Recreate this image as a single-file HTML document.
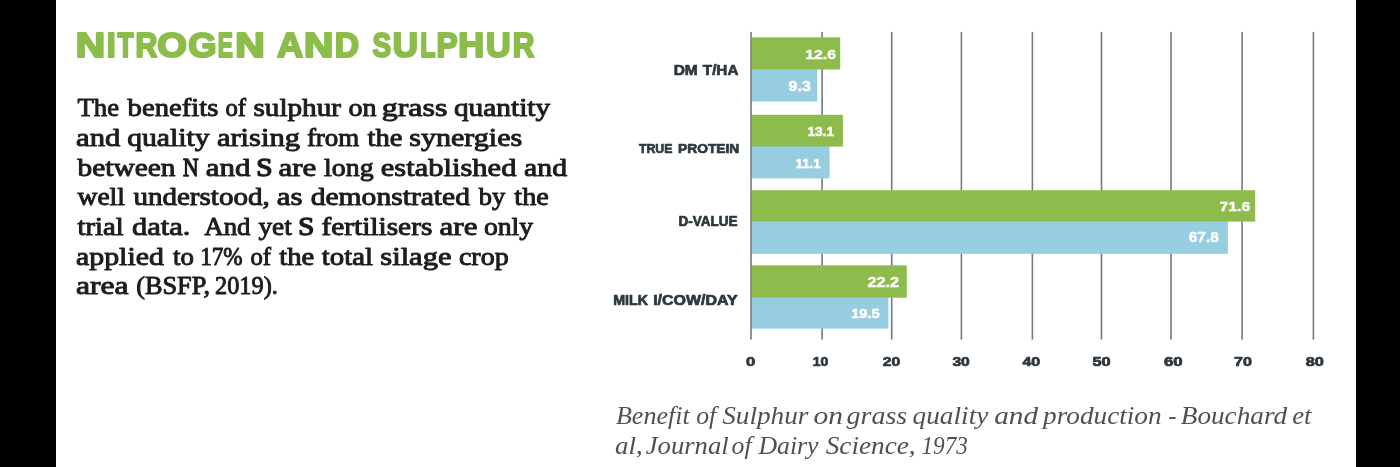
<!DOCTYPE html>
<html><head><meta charset="utf-8">
<style>
html,body{margin:0;padding:0;}
body{width:1400px;height:467px;position:relative;overflow:hidden;background:#000000;}
svg{position:absolute;left:0;top:0;display:block;will-change:transform;}
</style></head><body>
<svg width="1400" height="467" viewBox="0 0 1400 467">
<rect x="56" y="0" width="1300" height="467" fill="#ffffff"/>
<rect x="821.30" y="31.9" width="1.6" height="307.70000000000005" fill="#6f7b7d"/>
<rect x="890.90" y="31.9" width="1.6" height="307.70000000000005" fill="#6f7b7d"/>
<rect x="960.60" y="31.9" width="1.6" height="307.70000000000005" fill="#6f7b7d"/>
<rect x="1031.60" y="31.9" width="1.6" height="307.70000000000005" fill="#6f7b7d"/>
<rect x="1100.70" y="31.9" width="1.6" height="307.70000000000005" fill="#6f7b7d"/>
<rect x="1170.20" y="31.9" width="1.6" height="307.70000000000005" fill="#6f7b7d"/>
<rect x="1241.30" y="31.9" width="1.6" height="307.70000000000005" fill="#6f7b7d"/>
<rect x="1312.60" y="31.9" width="1.6" height="307.70000000000005" fill="#6f7b7d"/>
<rect x="751.80" y="68.50" width="65.50" height="2" fill="#93c5b0"/>
<rect x="751.80" y="37.30" width="88.40" height="32.2" fill="#8dbc4c"/>
<rect x="751.80" y="69.50" width="65.50" height="32" fill="#96cde1"/>
<rect x="751.80" y="145.60" width="77.80" height="2" fill="#93c5b0"/>
<rect x="751.80" y="114.80" width="91.10" height="31.8" fill="#8dbc4c"/>
<rect x="751.80" y="146.60" width="77.80" height="31.8" fill="#96cde1"/>
<rect x="751.80" y="220.60" width="476.10" height="2" fill="#93c5b0"/>
<rect x="751.80" y="190.20" width="503.40" height="31.4" fill="#8dbc4c"/>
<rect x="751.80" y="221.60" width="476.10" height="32.2" fill="#96cde1"/>
<rect x="751.80" y="296.70" width="136.60" height="2" fill="#93c5b0"/>
<rect x="751.80" y="265.30" width="155.00" height="32.4" fill="#8dbc4c"/>
<rect x="751.80" y="297.70" width="136.60" height="30.9" fill="#96cde1"/>
<rect x="750.20" y="31.9" width="1.6" height="307.70000000000005" fill="#6f7b7d"/>
<text x="75.88" y="56.90" font-size="34.59302325581396" fill="#8cbd4a" font-weight="bold" stroke="#8cbd4a" stroke-width="2.2" stroke-linejoin="round" textLength="29.36" lengthAdjust="spacingAndGlyphs" style="font-family:&quot;Liberation Sans&quot;,sans-serif;white-space:pre">N</text>
<text x="106.86" y="56.90" font-size="34.59302325581396" fill="#8cbd4a" font-weight="bold" stroke="#8cbd4a" stroke-width="2.2" stroke-linejoin="round" textLength="8.87" lengthAdjust="spacingAndGlyphs" style="font-family:&quot;Liberation Sans&quot;,sans-serif;white-space:pre">I</text>
<text x="117.51" y="56.90" font-size="34.59302325581396" fill="#8cbd4a" font-weight="bold" stroke="#8cbd4a" stroke-width="2.2" stroke-linejoin="round" textLength="15.97" lengthAdjust="spacingAndGlyphs" style="font-family:&quot;Liberation Sans&quot;,sans-serif;white-space:pre">T</text>
<text x="135.48" y="56.90" font-size="34.59302325581396" fill="#8cbd4a" font-weight="bold" stroke="#8cbd4a" stroke-width="2.2" stroke-linejoin="round" textLength="21.84" lengthAdjust="spacingAndGlyphs" style="font-family:&quot;Liberation Sans&quot;,sans-serif;white-space:pre">R</text>
<text x="157.34" y="56.90" font-size="34.59302325581396" fill="#8cbd4a" font-weight="bold" stroke="#8cbd4a" stroke-width="2.2" stroke-linejoin="round" textLength="29.67" lengthAdjust="spacingAndGlyphs" style="font-family:&quot;Liberation Sans&quot;,sans-serif;white-space:pre">O</text>
<text x="188.31" y="56.90" font-size="34.59302325581396" fill="#8cbd4a" font-weight="bold" stroke="#8cbd4a" stroke-width="2.2" stroke-linejoin="round" textLength="28.24" lengthAdjust="spacingAndGlyphs" style="font-family:&quot;Liberation Sans&quot;,sans-serif;white-space:pre">G</text>
<text x="217.67" y="56.90" font-size="34.59302325581396" fill="#8cbd4a" font-weight="bold" stroke="#8cbd4a" stroke-width="2.2" stroke-linejoin="round" textLength="15.22" lengthAdjust="spacingAndGlyphs" style="font-family:&quot;Liberation Sans&quot;,sans-serif;white-space:pre">E</text>
<text x="235.37" y="56.90" font-size="34.59302325581396" fill="#8cbd4a" font-weight="bold" stroke="#8cbd4a" stroke-width="2.2" stroke-linejoin="round" textLength="29.48" lengthAdjust="spacingAndGlyphs" style="font-family:&quot;Liberation Sans&quot;,sans-serif;white-space:pre">N</text>
<text x="277.10" y="56.90" font-size="34.59302325581396" fill="#8cbd4a" font-weight="bold" stroke="#8cbd4a" stroke-width="2.2" stroke-linejoin="round" textLength="26.16" lengthAdjust="spacingAndGlyphs" style="font-family:&quot;Liberation Sans&quot;,sans-serif;white-space:pre">A</text>
<text x="303.98" y="56.90" font-size="34.59302325581396" fill="#8cbd4a" font-weight="bold" stroke="#8cbd4a" stroke-width="2.2" stroke-linejoin="round" textLength="29.36" lengthAdjust="spacingAndGlyphs" style="font-family:&quot;Liberation Sans&quot;,sans-serif;white-space:pre">N</text>
<text x="334.85" y="56.90" font-size="34.59302325581396" fill="#8cbd4a" font-weight="bold" stroke="#8cbd4a" stroke-width="2.2" stroke-linejoin="round" textLength="24.26" lengthAdjust="spacingAndGlyphs" style="font-family:&quot;Liberation Sans&quot;,sans-serif;white-space:pre">D</text>
<text x="372.50" y="56.90" font-size="34.59302325581396" fill="#8cbd4a" font-weight="bold" stroke="#8cbd4a" stroke-width="2.2" stroke-linejoin="round" textLength="18.59" lengthAdjust="spacingAndGlyphs" style="font-family:&quot;Liberation Sans&quot;,sans-serif;white-space:pre">S</text>
<text x="392.70" y="56.90" font-size="34.59302325581396" fill="#8cbd4a" font-weight="bold" stroke="#8cbd4a" stroke-width="2.2" stroke-linejoin="round" textLength="25.23" lengthAdjust="spacingAndGlyphs" style="font-family:&quot;Liberation Sans&quot;,sans-serif;white-space:pre">U</text>
<text x="420.13" y="56.90" font-size="34.59302325581396" fill="#8cbd4a" font-weight="bold" stroke="#8cbd4a" stroke-width="2.2" stroke-linejoin="round" textLength="15.24" lengthAdjust="spacingAndGlyphs" style="font-family:&quot;Liberation Sans&quot;,sans-serif;white-space:pre">L</text>
<text x="436.38" y="56.90" font-size="34.59302325581396" fill="#8cbd4a" font-weight="bold" stroke="#8cbd4a" stroke-width="2.2" stroke-linejoin="round" textLength="21.10" lengthAdjust="spacingAndGlyphs" style="font-family:&quot;Liberation Sans&quot;,sans-serif;white-space:pre">P</text>
<text x="458.20" y="56.90" font-size="34.59302325581396" fill="#8cbd4a" font-weight="bold" stroke="#8cbd4a" stroke-width="2.2" stroke-linejoin="round" textLength="25.92" lengthAdjust="spacingAndGlyphs" style="font-family:&quot;Liberation Sans&quot;,sans-serif;white-space:pre">H</text>
<text x="486.05" y="56.90" font-size="34.59302325581396" fill="#8cbd4a" font-weight="bold" stroke="#8cbd4a" stroke-width="2.2" stroke-linejoin="round" textLength="24.63" lengthAdjust="spacingAndGlyphs" style="font-family:&quot;Liberation Sans&quot;,sans-serif;white-space:pre">U</text>
<text x="512.70" y="56.90" font-size="34.59302325581396" fill="#8cbd4a" font-weight="bold" stroke="#8cbd4a" stroke-width="2.2" stroke-linejoin="round" textLength="21.62" lengthAdjust="spacingAndGlyphs" style="font-family:&quot;Liberation Sans&quot;,sans-serif;white-space:pre">R</text>
<text x="77.50" y="116.30" font-size="24.2" fill="#1e1c1c" stroke="#1e1c1c" stroke-width="0.9" stroke-linejoin="round" textLength="41.50" lengthAdjust="spacingAndGlyphs" style="font-family:&quot;Liberation Serif&quot;,serif;white-space:pre">The</text>
<text x="127.60" y="116.30" font-size="24.2" fill="#1e1c1c" stroke="#1e1c1c" stroke-width="0.9" stroke-linejoin="round" textLength="90.70" lengthAdjust="spacingAndGlyphs" style="font-family:&quot;Liberation Serif&quot;,serif;white-space:pre">benefits</text>
<text x="225.40" y="116.30" font-size="24.2" fill="#1e1c1c" stroke="#1e1c1c" stroke-width="0.9" stroke-linejoin="round" textLength="20.60" lengthAdjust="spacingAndGlyphs" style="font-family:&quot;Liberation Serif&quot;,serif;white-space:pre">of</text>
<text x="253.50" y="116.30" font-size="24.2" fill="#1e1c1c" stroke="#1e1c1c" stroke-width="0.9" stroke-linejoin="round" textLength="87.50" lengthAdjust="spacingAndGlyphs" style="font-family:&quot;Liberation Serif&quot;,serif;white-space:pre">sulphur</text>
<text x="348.50" y="116.30" font-size="24.2" fill="#1e1c1c" stroke="#1e1c1c" stroke-width="0.9" stroke-linejoin="round" textLength="28.10" lengthAdjust="spacingAndGlyphs" style="font-family:&quot;Liberation Serif&quot;,serif;white-space:pre">on</text>
<text x="381.70" y="116.30" font-size="24.2" fill="#1e1c1c" stroke="#1e1c1c" stroke-width="0.9" stroke-linejoin="round" textLength="65.80" lengthAdjust="spacingAndGlyphs" style="font-family:&quot;Liberation Serif&quot;,serif;white-space:pre">grass</text>
<text x="453.90" y="116.30" font-size="24.2" fill="#1e1c1c" stroke="#1e1c1c" stroke-width="0.9" stroke-linejoin="round" textLength="96.30" lengthAdjust="spacingAndGlyphs" style="font-family:&quot;Liberation Serif&quot;,serif;white-space:pre">quantity</text>
<text x="76.00" y="145.97" font-size="24.2" fill="#1e1c1c" stroke="#1e1c1c" stroke-width="0.9" stroke-linejoin="round" textLength="44.40" lengthAdjust="spacingAndGlyphs" style="font-family:&quot;Liberation Serif&quot;,serif;white-space:pre">and</text>
<text x="127.20" y="145.97" font-size="24.2" fill="#1e1c1c" stroke="#1e1c1c" stroke-width="0.9" stroke-linejoin="round" textLength="82.40" lengthAdjust="spacingAndGlyphs" style="font-family:&quot;Liberation Serif&quot;,serif;white-space:pre">quality</text>
<text x="216.90" y="145.97" font-size="24.2" fill="#1e1c1c" stroke="#1e1c1c" stroke-width="0.9" stroke-linejoin="round" textLength="83.00" lengthAdjust="spacingAndGlyphs" style="font-family:&quot;Liberation Serif&quot;,serif;white-space:pre">arising</text>
<text x="306.90" y="145.97" font-size="24.2" fill="#1e1c1c" stroke="#1e1c1c" stroke-width="0.9" stroke-linejoin="round" textLength="52.40" lengthAdjust="spacingAndGlyphs" style="font-family:&quot;Liberation Serif&quot;,serif;white-space:pre">from</text>
<text x="367.50" y="145.97" font-size="24.2" fill="#1e1c1c" stroke="#1e1c1c" stroke-width="0.9" stroke-linejoin="round" textLength="34.90" lengthAdjust="spacingAndGlyphs" style="font-family:&quot;Liberation Serif&quot;,serif;white-space:pre">the</text>
<text x="409.20" y="145.97" font-size="24.2" fill="#1e1c1c" stroke="#1e1c1c" stroke-width="0.9" stroke-linejoin="round" textLength="113.10" lengthAdjust="spacingAndGlyphs" style="font-family:&quot;Liberation Serif&quot;,serif;white-space:pre">synergies</text>
<text x="77.60" y="175.64" font-size="24.2" fill="#1e1c1c" stroke="#1e1c1c" stroke-width="0.9" stroke-linejoin="round" textLength="97.80" lengthAdjust="spacingAndGlyphs" style="font-family:&quot;Liberation Serif&quot;,serif;white-space:pre">between</text>
<text x="182.90" y="175.64" font-size="24.2" fill="#1e1c1c" stroke="#1e1c1c" stroke-width="1.3" stroke-linejoin="round" textLength="15.60" lengthAdjust="spacingAndGlyphs" style="font-family:&quot;Liberation Serif&quot;,serif;white-space:pre">N</text>
<text x="205.70" y="175.64" font-size="24.2" fill="#1e1c1c" stroke="#1e1c1c" stroke-width="0.9" stroke-linejoin="round" textLength="44.70" lengthAdjust="spacingAndGlyphs" style="font-family:&quot;Liberation Serif&quot;,serif;white-space:pre">and</text>
<text x="256.30" y="175.64" font-size="24.2" fill="#1e1c1c" stroke="#1e1c1c" stroke-width="1.3" stroke-linejoin="round" textLength="16.30" lengthAdjust="spacingAndGlyphs" style="font-family:&quot;Liberation Serif&quot;,serif;white-space:pre">S</text>
<text x="278.50" y="175.64" font-size="24.2" fill="#1e1c1c" stroke="#1e1c1c" stroke-width="0.9" stroke-linejoin="round" textLength="37.90" lengthAdjust="spacingAndGlyphs" style="font-family:&quot;Liberation Serif&quot;,serif;white-space:pre">are</text>
<text x="324.10" y="175.64" font-size="24.2" fill="#1e1c1c" stroke="#1e1c1c" stroke-width="0.9" stroke-linejoin="round" textLength="49.50" lengthAdjust="spacingAndGlyphs" style="font-family:&quot;Liberation Serif&quot;,serif;white-space:pre">long</text>
<text x="380.80" y="175.64" font-size="24.2" fill="#1e1c1c" stroke="#1e1c1c" stroke-width="0.9" stroke-linejoin="round" textLength="135.60" lengthAdjust="spacingAndGlyphs" style="font-family:&quot;Liberation Serif&quot;,serif;white-space:pre">established</text>
<text x="524.10" y="175.64" font-size="24.2" fill="#1e1c1c" stroke="#1e1c1c" stroke-width="0.9" stroke-linejoin="round" textLength="43.10" lengthAdjust="spacingAndGlyphs" style="font-family:&quot;Liberation Serif&quot;,serif;white-space:pre">and</text>
<text x="77.50" y="205.31" font-size="24.2" fill="#1e1c1c" stroke="#1e1c1c" stroke-width="0.9" stroke-linejoin="round" textLength="47.40" lengthAdjust="spacingAndGlyphs" style="font-family:&quot;Liberation Serif&quot;,serif;white-space:pre">well</text>
<text x="133.40" y="205.31" font-size="24.2" fill="#1e1c1c" stroke="#1e1c1c" stroke-width="0.9" stroke-linejoin="round" textLength="136.40" lengthAdjust="spacingAndGlyphs" style="font-family:&quot;Liberation Serif&quot;,serif;white-space:pre">understood,</text>
<text x="276.70" y="205.31" font-size="24.2" fill="#1e1c1c" stroke="#1e1c1c" stroke-width="0.9" stroke-linejoin="round" textLength="25.80" lengthAdjust="spacingAndGlyphs" style="font-family:&quot;Liberation Serif&quot;,serif;white-space:pre">as</text>
<text x="310.70" y="205.31" font-size="24.2" fill="#1e1c1c" stroke="#1e1c1c" stroke-width="0.9" stroke-linejoin="round" textLength="159.30" lengthAdjust="spacingAndGlyphs" style="font-family:&quot;Liberation Serif&quot;,serif;white-space:pre">demonstrated</text>
<text x="478.80" y="205.31" font-size="24.2" fill="#1e1c1c" stroke="#1e1c1c" stroke-width="0.9" stroke-linejoin="round" textLength="26.50" lengthAdjust="spacingAndGlyphs" style="font-family:&quot;Liberation Serif&quot;,serif;white-space:pre">by</text>
<text x="514.35" y="205.31" font-size="24.2" fill="#1e1c1c" stroke="#1e1c1c" stroke-width="0.9" stroke-linejoin="round" textLength="34.45" lengthAdjust="spacingAndGlyphs" style="font-family:&quot;Liberation Serif&quot;,serif;white-space:pre">the</text>
<text x="77.50" y="234.98" font-size="24.2" fill="#1e1c1c" stroke="#1e1c1c" stroke-width="0.9" stroke-linejoin="round" textLength="46.10" lengthAdjust="spacingAndGlyphs" style="font-family:&quot;Liberation Serif&quot;,serif;white-space:pre">trial</text>
<text x="132.10" y="234.98" font-size="24.2" fill="#1e1c1c" stroke="#1e1c1c" stroke-width="0.9" stroke-linejoin="round" textLength="58.40" lengthAdjust="spacingAndGlyphs" style="font-family:&quot;Liberation Serif&quot;,serif;white-space:pre">data.</text>
<text x="204.30" y="234.98" font-size="24.2" fill="#1e1c1c" stroke="#1e1c1c" stroke-width="0.9" stroke-linejoin="round" textLength="46.10" lengthAdjust="spacingAndGlyphs" style="font-family:&quot;Liberation Serif&quot;,serif;white-space:pre">And</text>
<text x="258.40" y="234.98" font-size="24.2" fill="#1e1c1c" stroke="#1e1c1c" stroke-width="0.9" stroke-linejoin="round" textLength="33.50" lengthAdjust="spacingAndGlyphs" style="font-family:&quot;Liberation Serif&quot;,serif;white-space:pre">yet</text>
<text x="298.30" y="234.98" font-size="24.2" fill="#1e1c1c" stroke="#1e1c1c" stroke-width="1.3" stroke-linejoin="round" textLength="16.05" lengthAdjust="spacingAndGlyphs" style="font-family:&quot;Liberation Serif&quot;,serif;white-space:pre">S</text>
<text x="321.40" y="234.98" font-size="24.2" fill="#1e1c1c" stroke="#1e1c1c" stroke-width="0.9" stroke-linejoin="round" textLength="111.00" lengthAdjust="spacingAndGlyphs" style="font-family:&quot;Liberation Serif&quot;,serif;white-space:pre">fertilisers</text>
<text x="439.60" y="234.98" font-size="24.2" fill="#1e1c1c" stroke="#1e1c1c" stroke-width="0.9" stroke-linejoin="round" textLength="37.90" lengthAdjust="spacingAndGlyphs" style="font-family:&quot;Liberation Serif&quot;,serif;white-space:pre">are</text>
<text x="483.90" y="234.98" font-size="24.2" fill="#1e1c1c" stroke="#1e1c1c" stroke-width="0.9" stroke-linejoin="round" textLength="49.20" lengthAdjust="spacingAndGlyphs" style="font-family:&quot;Liberation Serif&quot;,serif;white-space:pre">only</text>
<text x="76.00" y="264.65" font-size="24.2" fill="#1e1c1c" stroke="#1e1c1c" stroke-width="0.9" stroke-linejoin="round" textLength="87.90" lengthAdjust="spacingAndGlyphs" style="font-family:&quot;Liberation Serif&quot;,serif;white-space:pre">applied</text>
<text x="173.10" y="264.65" font-size="24.2" fill="#1e1c1c" stroke="#1e1c1c" stroke-width="0.9" stroke-linejoin="round" textLength="20.90" lengthAdjust="spacingAndGlyphs" style="font-family:&quot;Liberation Serif&quot;,serif;white-space:pre">to</text>
<text x="200.20" y="264.65" font-size="24.2" fill="#1e1c1c" stroke="#1e1c1c" stroke-width="0.9" stroke-linejoin="round" textLength="42.50" lengthAdjust="spacingAndGlyphs" style="font-family:&quot;Liberation Serif&quot;,serif;white-space:pre">17%</text>
<text x="250.40" y="264.65" font-size="24.2" fill="#1e1c1c" stroke="#1e1c1c" stroke-width="0.9" stroke-linejoin="round" textLength="20.60" lengthAdjust="spacingAndGlyphs" style="font-family:&quot;Liberation Serif&quot;,serif;white-space:pre">of</text>
<text x="279.30" y="264.65" font-size="24.2" fill="#1e1c1c" stroke="#1e1c1c" stroke-width="0.9" stroke-linejoin="round" textLength="35.05" lengthAdjust="spacingAndGlyphs" style="font-family:&quot;Liberation Serif&quot;,serif;white-space:pre">the</text>
<text x="321.80" y="264.65" font-size="24.2" fill="#1e1c1c" stroke="#1e1c1c" stroke-width="0.9" stroke-linejoin="round" textLength="51.30" lengthAdjust="spacingAndGlyphs" style="font-family:&quot;Liberation Serif&quot;,serif;white-space:pre">total</text>
<text x="380.30" y="264.65" font-size="24.2" fill="#1e1c1c" stroke="#1e1c1c" stroke-width="0.9" stroke-linejoin="round" textLength="71.15" lengthAdjust="spacingAndGlyphs" style="font-family:&quot;Liberation Serif&quot;,serif;white-space:pre">silage</text>
<text x="458.90" y="264.65" font-size="24.2" fill="#1e1c1c" stroke="#1e1c1c" stroke-width="0.9" stroke-linejoin="round" textLength="49.80" lengthAdjust="spacingAndGlyphs" style="font-family:&quot;Liberation Serif&quot;,serif;white-space:pre">crop</text>
<text x="76.00" y="294.32" font-size="24.2" fill="#1e1c1c" stroke="#1e1c1c" stroke-width="0.9" stroke-linejoin="round" textLength="52.60" lengthAdjust="spacingAndGlyphs" style="font-family:&quot;Liberation Serif&quot;,serif;white-space:pre">area</text>
<text x="136.20" y="294.32" font-size="24.2" fill="#1e1c1c" stroke="#1e1c1c" stroke-width="0.9" stroke-linejoin="round" textLength="73.80" lengthAdjust="spacingAndGlyphs" style="font-family:&quot;Liberation Serif&quot;,serif;white-space:pre">(BSFP,</text>
<text x="215.10" y="294.32" font-size="24.2" fill="#1e1c1c" stroke="#1e1c1c" stroke-width="0.9" stroke-linejoin="round" textLength="62.70" lengthAdjust="spacingAndGlyphs" style="font-family:&quot;Liberation Serif&quot;,serif;white-space:pre">2019).</text>
<text x="673.66" y="75.10" font-size="13.813953488372091" fill="#2c383e" font-weight="bold" stroke="#2c383e" stroke-width="0.7" stroke-linejoin="round" textLength="24.14" lengthAdjust="spacingAndGlyphs" style="font-family:&quot;Liberation Sans&quot;,sans-serif;white-space:pre">DM</text>
<text x="702.84" y="75.10" font-size="13.813953488372091" fill="#2c383e" font-weight="bold" stroke="#2c383e" stroke-width="0.7" stroke-linejoin="round" textLength="35.58" lengthAdjust="spacingAndGlyphs" style="font-family:&quot;Liberation Sans&quot;,sans-serif;white-space:pre">T/HA</text>
<text x="638.88" y="152.90" font-size="13.430232558139537" fill="#2c383e" font-weight="bold" stroke="#2c383e" stroke-width="0.7" stroke-linejoin="round" textLength="33.66" lengthAdjust="spacingAndGlyphs" style="font-family:&quot;Liberation Sans&quot;,sans-serif;white-space:pre">TRUE</text>
<text x="678.00" y="152.90" font-size="13.430232558139537" fill="#2c383e" font-weight="bold" stroke="#2c383e" stroke-width="0.7" stroke-linejoin="round" textLength="61.34" lengthAdjust="spacingAndGlyphs" style="font-family:&quot;Liberation Sans&quot;,sans-serif;white-space:pre">PROTEIN</text>
<text x="678.54" y="226.10" font-size="13.813953488372073" fill="#2c383e" font-weight="bold" stroke="#2c383e" stroke-width="0.7" stroke-linejoin="round" textLength="59.12" lengthAdjust="spacingAndGlyphs" style="font-family:&quot;Liberation Sans&quot;,sans-serif;white-space:pre">D-VALUE</text>
<text x="613.16" y="304.70" font-size="13.813953488372109" fill="#2c383e" font-weight="bold" stroke="#2c383e" stroke-width="0.7" stroke-linejoin="round" textLength="34.84" lengthAdjust="spacingAndGlyphs" style="font-family:&quot;Liberation Sans&quot;,sans-serif;white-space:pre">MILK</text>
<text x="653.20" y="304.70" font-size="13.813953488372109" fill="#2c383e" font-weight="bold" stroke="#2c383e" stroke-width="0.7" stroke-linejoin="round" textLength="84.38" lengthAdjust="spacingAndGlyphs" style="font-family:&quot;Liberation Sans&quot;,sans-serif;white-space:pre">I/COW/DAY</text>
<text x="805.30" y="58.95" font-size="13.111918604651159" fill="#ffffff" font-weight="bold" stroke="#ffffff" stroke-width="0.45" stroke-linejoin="round" textLength="30.62" lengthAdjust="spacingAndGlyphs" style="font-family:&quot;Liberation Sans&quot;,sans-serif;white-space:pre">12.6</text>
<text x="788.44" y="91.15" font-size="13.922965116279068" fill="#ffffff" font-weight="bold" stroke="#ffffff" stroke-width="0.45" stroke-linejoin="round" textLength="22.46" lengthAdjust="spacingAndGlyphs" style="font-family:&quot;Liberation Sans&quot;,sans-serif;white-space:pre">9.3</text>
<text x="807.42" y="135.65" font-size="13.11191860465117" fill="#ffffff" font-weight="bold" stroke="#ffffff" stroke-width="0.45" stroke-linejoin="round" textLength="26.82" lengthAdjust="spacingAndGlyphs" style="font-family:&quot;Liberation Sans&quot;,sans-serif;white-space:pre">13.1</text>
<text x="795.64" y="168.45" font-size="12.976744186046544" fill="#ffffff" font-weight="bold" stroke="#ffffff" stroke-width="0.45" stroke-linejoin="round" textLength="24.80" lengthAdjust="spacingAndGlyphs" style="font-family:&quot;Liberation Sans&quot;,sans-serif;white-space:pre">11.1</text>
<text x="1219.42" y="211.25" font-size="13.517441860465118" fill="#ffffff" font-weight="bold" stroke="#ffffff" stroke-width="0.45" stroke-linejoin="round" textLength="30.94" lengthAdjust="spacingAndGlyphs" style="font-family:&quot;Liberation Sans&quot;,sans-serif;white-space:pre">71.6</text>
<text x="1188.76" y="241.55" font-size="14.328488372093018" fill="#ffffff" font-weight="bold" stroke="#ffffff" stroke-width="0.45" stroke-linejoin="round" textLength="30.14" lengthAdjust="spacingAndGlyphs" style="font-family:&quot;Liberation Sans&quot;,sans-serif;white-space:pre">67.8</text>
<text x="867.42" y="287.45" font-size="13.787790697674405" fill="#ffffff" font-weight="bold" stroke="#ffffff" stroke-width="0.45" stroke-linejoin="round" textLength="31.70" lengthAdjust="spacingAndGlyphs" style="font-family:&quot;Liberation Sans&quot;,sans-serif;white-space:pre">22.2</text>
<text x="851.20" y="318.45" font-size="13.517441860465118" fill="#ffffff" font-weight="bold" stroke="#ffffff" stroke-width="0.45" stroke-linejoin="round" textLength="28.58" lengthAdjust="spacingAndGlyphs" style="font-family:&quot;Liberation Sans&quot;,sans-serif;white-space:pre">19.5</text>
<text x="746.10" y="366.45" font-size="13.094476744186018" fill="#2c383e" font-weight="bold" stroke="#2c383e" stroke-width="0.7" stroke-linejoin="round" textLength="9.24" lengthAdjust="spacingAndGlyphs" style="font-family:&quot;Liberation Sans&quot;,sans-serif;white-space:pre">0</text>
<text x="812.66" y="366.45" font-size="13.094476744186018" fill="#2c383e" font-weight="bold" stroke="#2c383e" stroke-width="0.7" stroke-linejoin="round" textLength="15.56" lengthAdjust="spacingAndGlyphs" style="font-family:&quot;Liberation Sans&quot;,sans-serif;white-space:pre">10</text>
<text x="882.88" y="366.45" font-size="13.094476744186018" fill="#2c383e" font-weight="bold" stroke="#2c383e" stroke-width="0.7" stroke-linejoin="round" textLength="17.34" lengthAdjust="spacingAndGlyphs" style="font-family:&quot;Liberation Sans&quot;,sans-serif;white-space:pre">20</text>
<text x="952.44" y="366.45" font-size="13.094476744186018" fill="#2c383e" font-weight="bold" stroke="#2c383e" stroke-width="0.7" stroke-linejoin="round" textLength="17.34" lengthAdjust="spacingAndGlyphs" style="font-family:&quot;Liberation Sans&quot;,sans-serif;white-space:pre">30</text>
<text x="1022.44" y="366.45" font-size="13.094476744186018" fill="#2c383e" font-weight="bold" stroke="#2c383e" stroke-width="0.7" stroke-linejoin="round" textLength="17.79" lengthAdjust="spacingAndGlyphs" style="font-family:&quot;Liberation Sans&quot;,sans-serif;white-space:pre">40</text>
<text x="1092.44" y="366.45" font-size="13.094476744186018" fill="#2c383e" font-weight="bold" stroke="#2c383e" stroke-width="0.7" stroke-linejoin="round" textLength="18.24" lengthAdjust="spacingAndGlyphs" style="font-family:&quot;Liberation Sans&quot;,sans-serif;white-space:pre">50</text>
<text x="1164.00" y="366.45" font-size="13.094476744186018" fill="#2c383e" font-weight="bold" stroke="#2c383e" stroke-width="0.7" stroke-linejoin="round" textLength="18.68" lengthAdjust="spacingAndGlyphs" style="font-family:&quot;Liberation Sans&quot;,sans-serif;white-space:pre">60</text>
<text x="1234.00" y="366.45" font-size="13.094476744186018" fill="#2c383e" font-weight="bold" stroke="#2c383e" stroke-width="0.7" stroke-linejoin="round" textLength="17.90" lengthAdjust="spacingAndGlyphs" style="font-family:&quot;Liberation Sans&quot;,sans-serif;white-space:pre">70</text>
<text x="1305.78" y="366.45" font-size="13.094476744186018" fill="#2c383e" font-weight="bold" stroke="#2c383e" stroke-width="0.7" stroke-linejoin="round" textLength="18.12" lengthAdjust="spacingAndGlyphs" style="font-family:&quot;Liberation Sans&quot;,sans-serif;white-space:pre">80</text>
<text x="615.94" y="424.30" font-size="25.5" fill="#505050" font-style="italic" textLength="73.82" lengthAdjust="spacingAndGlyphs" style="font-family:&quot;Liberation Serif&quot;,serif;white-space:pre">Benefit</text>
<text x="696.20" y="424.30" font-size="25.5" fill="#505050" font-style="italic" textLength="19.96" lengthAdjust="spacingAndGlyphs" style="font-family:&quot;Liberation Serif&quot;,serif;white-space:pre">of</text>
<text x="722.26" y="424.30" font-size="25.5" fill="#505050" font-style="italic" textLength="86.18" lengthAdjust="spacingAndGlyphs" style="font-family:&quot;Liberation Serif&quot;,serif;white-space:pre">Sulphur</text>
<text x="813.52" y="424.30" font-size="25.5" fill="#505050" font-style="italic" textLength="29.52" lengthAdjust="spacingAndGlyphs" style="font-family:&quot;Liberation Serif&quot;,serif;white-space:pre">on</text>
<text x="846.58" y="424.30" font-size="25.5" fill="#505050" font-style="italic" textLength="60.66" lengthAdjust="spacingAndGlyphs" style="font-family:&quot;Liberation Serif&quot;,serif;white-space:pre">grass</text>
<text x="912.55" y="424.30" font-size="25.5" fill="#505050" font-style="italic" textLength="75.80" lengthAdjust="spacingAndGlyphs" style="font-family:&quot;Liberation Serif&quot;,serif;white-space:pre">quality</text>
<text x="994.20" y="424.30" font-size="25.5" fill="#505050" font-style="italic" textLength="43.86" lengthAdjust="spacingAndGlyphs" style="font-family:&quot;Liberation Serif&quot;,serif;white-space:pre">and</text>
<text x="1043.14" y="424.30" font-size="25.5" fill="#505050" font-style="italic" textLength="118.46" lengthAdjust="spacingAndGlyphs" style="font-family:&quot;Liberation Serif&quot;,serif;white-space:pre">production</text>
<text x="1168.26" y="424.30" font-size="25.5" fill="#505050" font-style="italic" textLength="8.22" lengthAdjust="spacingAndGlyphs" style="font-family:&quot;Liberation Serif&quot;,serif;white-space:pre">-</text>
<text x="1180.76" y="424.30" font-size="25.5" fill="#505050" font-style="italic" textLength="106.36" lengthAdjust="spacingAndGlyphs" style="font-family:&quot;Liberation Serif&quot;,serif;white-space:pre">Bouchard</text>
<text x="1292.20" y="424.30" font-size="25.5" fill="#505050" font-style="italic" textLength="19.30" lengthAdjust="spacingAndGlyphs" style="font-family:&quot;Liberation Serif&quot;,serif;white-space:pre">et</text>
<text x="615.14" y="454.40" font-size="25.5" fill="#505050" font-style="italic" textLength="27.64" lengthAdjust="spacingAndGlyphs" style="font-family:&quot;Liberation Serif&quot;,serif;white-space:pre">al,</text>
<text x="645.76" y="454.40" font-size="25.5" fill="#505050" font-style="italic" textLength="82.92" lengthAdjust="spacingAndGlyphs" style="font-family:&quot;Liberation Serif&quot;,serif;white-space:pre">Journal</text>
<text x="731.58" y="454.40" font-size="25.5" fill="#505050" font-style="italic" textLength="19.96" lengthAdjust="spacingAndGlyphs" style="font-family:&quot;Liberation Serif&quot;,serif;white-space:pre">of</text>
<text x="758.44" y="454.40" font-size="25.5" fill="#505050" font-style="italic" textLength="60.12" lengthAdjust="spacingAndGlyphs" style="font-family:&quot;Liberation Serif&quot;,serif;white-space:pre">Dairy</text>
<text x="825.76" y="454.40" font-size="25.5" fill="#505050" font-style="italic" textLength="89.90" lengthAdjust="spacingAndGlyphs" style="font-family:&quot;Liberation Serif&quot;,serif;white-space:pre">Science,</text>
<text x="921.46" y="454.40" font-size="25.5" fill="#505050" font-style="italic" textLength="46.46" lengthAdjust="spacingAndGlyphs" style="font-family:&quot;Liberation Serif&quot;,serif;white-space:pre">1973</text>
</svg>
</body></html>
